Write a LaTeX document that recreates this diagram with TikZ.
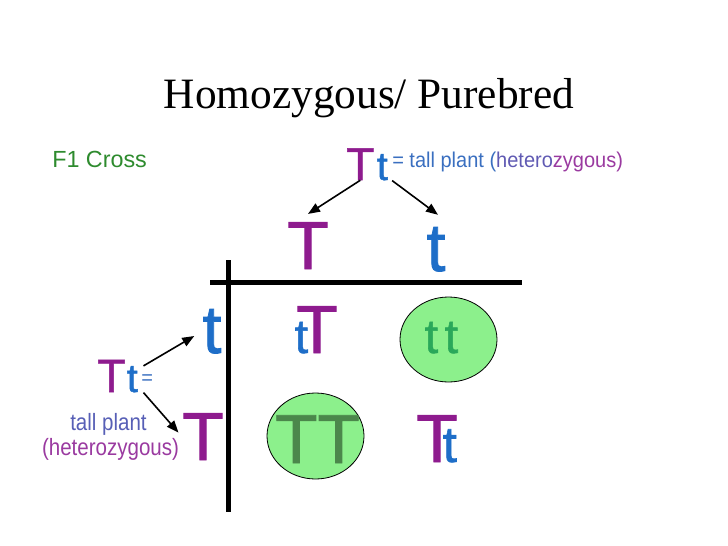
\documentclass[tikz,border=0pt]{standalone}
\usepackage{fontspec}
\setmainfont{Liberation Serif}
\newfontfamily\genefont{Liberation Sans}
\newfontfamily\genebold[FakeBold=1.2]{Liberation Sans}
\usetikzlibrary{arrows.meta,shapes.geometric}
\definecolor{domT}{HTML}{8E1B8E}
\definecolor{recT}{HTML}{1E6EC8}
\definecolor{crossgreen}{HTML}{2E8B2E}
\definecolor{homofill}{HTML}{8CF08C}
\definecolor{ttgreen}{HTML}{2AA85A}
\definecolor{TTgreen}{HTML}{4B874B}
\definecolor{lblblue}{HTML}{3A6FC0}
\definecolor{lblpurple}{HTML}{9A3AA0}
\newcommand{\gsize}[1]{\fontsize{#1}{#1}\selectfont}

\begin{document}
\begin{tikzpicture}[x=0.75pt, y=-0.75pt,
  every node/.style={inner sep=0pt, font=\genefont},
  arr/.style={line width=1.2pt, -{Triangle[length=9pt,width=7pt]}},
  homo/.style={ellipse, draw=black, line width=0.6pt, fill=homofill,
    minimum width=72.75pt, minimum height=63.75pt}]
  \useasboundingbox (0,0) rectangle (728,546);

  % title
  \node[font=\rmfamily\gsize{32.5}, anchor=base] (title) at (369,108) {Homozygous/ Purebred};
  \node[font=\genefont\gsize{17.5}, text=crossgreen, anchor=base west] (cross) at (52,167) {F1 Cross};

  % parent on top
  \node[font=\genebold\gsize{34.5}, text=domT, anchor=base west] (topT) at (346,180) {T};
  \node[font=\genebold\gsize{30}, text=recT, anchor=base west] (topt) at (376.5,180) {t};
  \node[font=\genefont\gsize{15}, anchor=base west] (toplbl) at (392,167)
    {\scalebox{1}[1.07]{\color{lblblue}= tall plant (\color{lblblue!60!lblpurple}hetero\color{lblpurple}zygous)}};

  % parent on the left
  \node[font=\genebold\gsize{35}, text=domT, anchor=base west] (leftT) at (97,392) {T};
  \node[font=\genebold\gsize{30}, text=recT, anchor=base west] (leftt) at (126.5,392) {t};
  \node[font=\genefont\gsize{15}, text=lblblue, anchor=base west] (lefteq) at (141,384) {=};
  \node[font=\genefont\gsize{15.4}, text=lblblue!70!lblpurple, anchor=base] (leftlbl) at (108.5,430)
    {\scalebox{1}[1.15]{tall plant}};
  \node[font=\genefont\gsize{15.4}, text=lblpurple, anchor=base] (leftlbl2) at (110.5,455)
    {\scalebox{1}[1.15]{(heterozygous)}};

  % gametes
  \node[font=\genebold\gsize{51}, text=domT, anchor=base] (colT) at (308,269) {T};
  \node[font=\genebold\gsize{51}, text=recT, anchor=base] (colt) at (436,271) {t};
  \node[font=\genebold\gsize{51}, text=recT, anchor=base] (rowt) at (212,353) {t};
  \node[font=\genebold\gsize{51}, text=domT, anchor=base] (rowT) at (203,460) {T};

  % grid
  \draw[line width=3.75pt] (210,282) -- (522,282);
  \draw[line width=3.75pt] (228,260) -- (228,512);

  % arrows
  \draw[arr] (topT.south) -- ([yshift=6pt]colT.north);
  \draw[arr] ([xshift=3pt]topt.south east) -- ([xshift=1.5pt,yshift=9pt]colt.north);
  \draw[arr, shorten >=7pt] ([xshift=4pt]leftt.north east) -- (rowt.west);
  \draw[arr, shorten >=4pt] ([xshift=4pt]leftt.south east) -- (rowT.west);

  % homozygous cells
  \node[homo] (homott) at (448.5,339.5) {};
  \node[homo, minimum height=64.5pt] (homoTT) at (315.5,436) {};

  % offspring
  \node[font=\genebold\gsize{36}, text=ttgreen, anchor=base west] (celltt) at (424.5,353) {t\kern5pt t};
  \node[font=\genebold\gsize{52}, text=TTgreen, anchor=base] (cellTT) at (317.5,463) {TT};
  \node[font=\genebold, anchor=base west] (celltT) at (294.5,353)
    {\gsize{36}\color{recT}t\kern-8.9pt\gsize{51}\color{domT}T};
  \node[font=\genebold, anchor=base west] (cellTt) at (416,462)
    {\gsize{51}\color{domT}T\kern-11.3pt\gsize{38}\color{recT}t};
\end{tikzpicture}
\end{document}
